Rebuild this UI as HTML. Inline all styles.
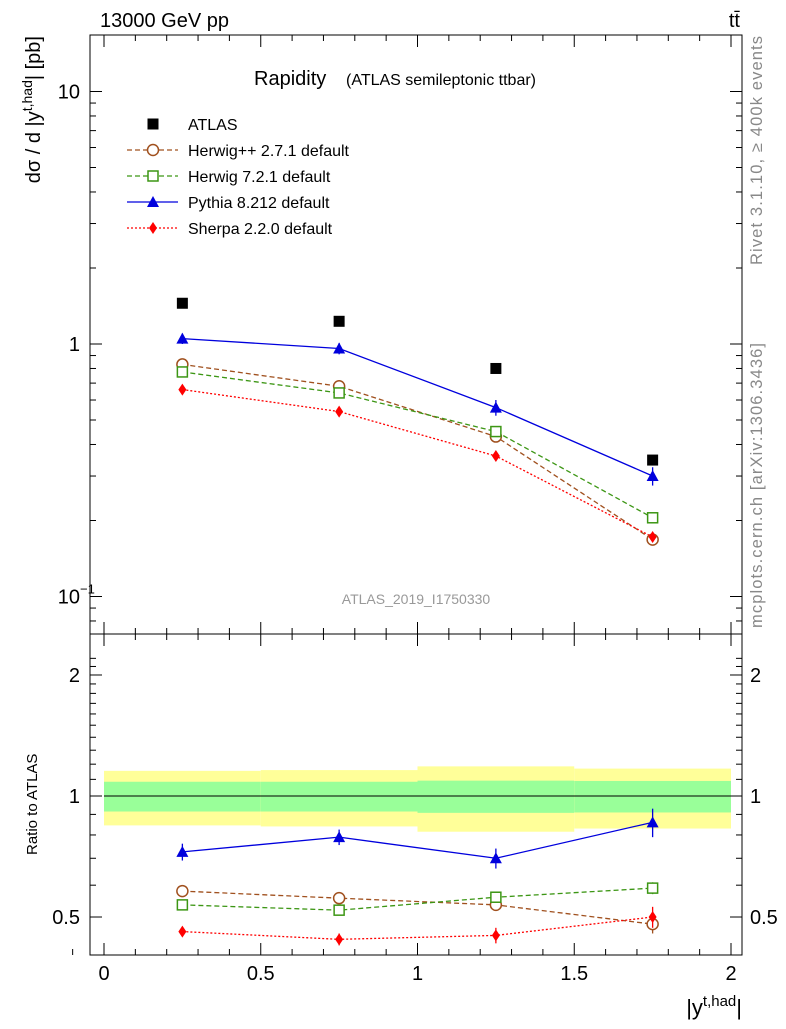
<!DOCTYPE html>
<html><head><meta charset="utf-8">
<style>
body{margin:0;background:#fff;font-family:"Liberation Sans",sans-serif;}
svg text{font-family:"Liberation Sans","DejaVu Sans",sans-serif;}
</style></head>
<body>
<svg id="c" width="786" height="1024" xmlns="http://www.w3.org/2000/svg"></svg>
<script>
const binCenters=[0.25,0.75,1.25,1.75];
const binEdges=[0,0.5,1,1.5,2];
const atlas=[1.45,1.23,0.80,0.347];
const herwigpp=[0.83,0.68,0.43,0.168];
const herwig7=[0.775,0.64,0.45,0.205];
const pythia=[1.05,0.96,0.56,0.30];
const sherpa=[0.66,0.54,0.36,0.172];
const pythiaErr=[0.05,0.05,0.04,0.025];
const ratioHerwigpp=[0.58,0.557,0.536,0.48];
const ratioHerwig7=[0.536,0.52,0.56,0.59];
const ratioPythia=[0.726,0.79,0.70,0.86];
const ratioSherpa=[0.46,0.44,0.45,0.50];
const ratioPythiaErr=[0.035,0.035,0.04,0.07];
const bandYellow=[0.155,0.16,0.185,0.17];
const bandGreen=[0.085,0.085,0.092,0.09];
const xTicks=[0,0.5,1,1.5,2];
const xTickLabels=["0","0.5","1","1.5","2"];

const svg=document.getElementById('c');
const NS="http://www.w3.org/2000/svg";
function el(tag,attrs,text){const e=document.createElementNS(NS,tag);for(const k in attrs)e.setAttribute(k,attrs[k]);if(text!==undefined)e.textContent=text;svg.appendChild(e);return e;}
const L=90,R=742,T=35,M=634,B=955;
const X=v=>104+v*313.5;
const Y=v=>344-Math.log10(v)*252.5;
const RY=v=>796-Math.log10(v)*402;

binEdges.slice(0,-1).forEach((e,i)=>{
  let r=el('rect',{x:X(e),y:RY(1+bandYellow[i]),width:X(binEdges[i+1])-X(e),height:RY(1-bandYellow[i])-RY(1+bandYellow[i]),fill:'#ffff99'});
  
  
  let g=el('rect',{x:X(e),y:RY(1+bandGreen[i]),width:X(binEdges[i+1])-X(e),height:RY(1-bandGreen[i])-RY(1+bandGreen[i]),fill:'#99ff99'});
  
  
});
el('line',{x1:X(0),x2:X(2),y1:RY(1),y2:RY(1),stroke:'#000','stroke-width':1});

el('rect',{x:L,y:T,width:R-L,height:M-T,fill:'none',stroke:'#000','stroke-width':1});
el('rect',{x:L,y:M,width:R-L,height:B-M,fill:'none',stroke:'#000','stroke-width':1});

for(let i=0;i<=20;i++){const v=i*0.1;const x=X(v);const major=i%5==0;const len=major?12:6;
 [T,M].forEach(y0=>{el('line',{x1:x,x2:x,y1:y0,y2:y0+len,stroke:'#000'});});
 [M,B].forEach(y0=>{el('line',{x1:x,x2:x,y1:y0,y2:y0-len,stroke:'#000'});});}
xTicks.forEach((v,i)=>{const t=el('text',{x:X(v),y:980,'font-size':20,'text-anchor':'middle'},xTickLabels[i]);});
el('line',{x1:X(-0.1),x2:X(-0.1),y1:B,y2:B-6,stroke:'#000'});

for(let d=-2;d<=1;d++){for(let m=1;m<10;m++){const v=m*Math.pow(10,d);const y=Y(v);if(y<T||y>M)continue;const len=m==1?12:6;
 el('line',{x1:L,x2:L+len,y1:y,y2:y,stroke:'#000'});el('line',{x1:R,x2:R-len,y1:y,y2:y,stroke:'#000'});}}
let t1=el('text',{x:80,y:Y(10)+7,'font-size':20,'text-anchor':'end'},'10');
let t2=el('text',{x:80,y:Y(1)+7,'font-size':20,'text-anchor':'end'},'1');
let t3=el('text',{x:80,y:Y(0.1)+7,'font-size':20,'text-anchor':'end'},'10');
el('text',{x:80,y:Y(0.1)-3,'font-size':13},'−1');

for(let v=0.4;v<=2.3;v+=0.1){const y=RY(v);if(y<M||y>B)continue;const major=Math.abs(v-0.5)<1e-6||Math.abs(v-1)<1e-6||Math.abs(v-2)<1e-6;const len=major?12:6;
 el('line',{x1:L,x2:L+len,y1:y,y2:y,stroke:'#000'});el('line',{x1:R,x2:R-len,y1:y,y2:y,stroke:'#000'});}
[[2,'2'],[1,'1'],[0.5,'0.5']].forEach(([v,s])=>{
 let a=el('text',{x:80,y:RY(v)+7,'font-size':20,'text-anchor':'end'},s);
 let b=el('text',{x:750,y:RY(v)+7,'font-size':20},s);});

function marker(shape,x,y,color){
 if(shape=='sq') return el('rect',{x:x-5.5,y:y-5.5,width:11,height:11,fill:color});
 if(shape=='osq') return el('rect',{x:x-5,y:y-5,width:10,height:10,fill:'#fff',stroke:color,'stroke-width':1.5});
 if(shape=='oc') return el('circle',{cx:x,cy:y,r:5.5,fill:'#fff',stroke:color,'stroke-width':1.5});
 if(shape=='tri') return el('polygon',{points:`${x},${y-6} ${x-6},${y+5} ${x+6},${y+5}`,fill:color});
 if(shape=='dia') return el('polygon',{points:`${x},${y-6} ${x-4},${y} ${x},${y+6} ${x+4},${y}`,fill:color});
}
function series(vals,yf,color,dash,shape,name,err){
 const pts=binCenters.map((c,i)=>`${X(c)},${yf(vals[i])}`).join(' ');
 if(dash!==null){const p=el('polyline',{points:pts,fill:'none',stroke:color,'stroke-width':1.3,'stroke-dasharray':dash});}
 binCenters.forEach((c,i)=>{
  if(err){el('line',{x1:X(c),x2:X(c),y1:yf(vals[i]+err[i]),y2:yf(vals[i]-err[i]),stroke:color,'stroke-width':1.3});}
  const m=marker(shape,X(c),yf(vals[i]),color);});
}
series(herwigpp,Y,'#a0501e','5,3','oc','herwigpp');
series(herwig7,Y,'#3c9614','5,3','osq','herwig7');
series(sherpa,Y,'#ff0000','2,2','dia','sherpa');
series(pythia,Y,'#0000dd','','tri','pythia',pythiaErr);
series(atlas,Y,'#000',null,'sq','atlas');
series(ratioHerwigpp,RY,'#a0501e','5,3','oc','ratio-herwigpp',[0.01,0,0,0.025]);
series(ratioHerwig7,RY,'#3c9614','5,3','osq','ratio-herwig7',[0,0,0,0.02]);
series(ratioSherpa,RY,'#ff0000','2,2','dia','ratio-sherpa',[0.01,0.015,0.02,0.03]);
series(ratioPythia,RY,'#0000dd','','tri','ratio-pythia',ratioPythiaErr);

const leg=[['ATLAS','#000',null,'sq'],['Herwig++ 2.7.1 default','#a0501e','5,3','oc'],['Herwig 7.2.1 default','#3c9614','5,3','osq'],['Pythia 8.212 default','#0000dd','','tri'],['Sherpa 2.2.0 default','#ff0000','2,2','dia']];
leg.forEach((l,i)=>{const y=124+i*26;
 if(l[2]!==null){el('line',{x1:127,x2:178,y1:y,y2:y,stroke:l[1],'stroke-width':1.3,'stroke-dasharray':l[2]});}
 marker(l[3],153,y,l[1]);
 const t=el('text',{x:188,y:y+6,'font-size':16},l[0]);});

let a=el('text',{x:254,y:85,'font-size':20},'Rapidity');
el('text',{x:346,y:85,'font-size':16},'(ATLAS semileptonic ttbar)');
let b=el('text',{x:100,y:27,'font-size':20},'13000 GeV pp');
let c=el('text',{x:740,y:27,'font-size':20,'text-anchor':'end'},'tt̄');
let d=el('text',{x:416,y:604,'font-size':14,fill:'#999','text-anchor':'middle'},'ATLAS_2019_I1750330');
let e=el('text',{x:0,y:0,'font-size':16.5,fill:'#888','text-anchor':'end',transform:'translate(762,36) rotate(-90)',textLength:229},'Rivet 3.1.10, ≥ 400k events');
let f=el('text',{x:0,y:0,'font-size':16.5,fill:'#888','text-anchor':'end',transform:'translate(762,343) rotate(-90)',textLength:285},'mcplots.cern.ch [arXiv:1306.3436]');
let g=el('text',{x:0,y:0,'font-size':20,'text-anchor':'end',transform:'translate(40,36) rotate(-90)'});
g.innerHTML='dσ / d |y<tspan dy="-8" font-size="14">t,had</tspan><tspan dy="8">| [pb]</tspan>';

let h=el('text',{x:0,y:0,'font-size':15,'text-anchor':'start',transform:'translate(37,855) rotate(-90)'},'Ratio to ATLAS');
let k=el('text',{x:742,y:1015,'font-size':22,'text-anchor':'end'});
k.innerHTML='|y<tspan dy="-9" font-size="15">t,had</tspan><tspan dy="9">|</tspan>';

</script>
</body></html>
